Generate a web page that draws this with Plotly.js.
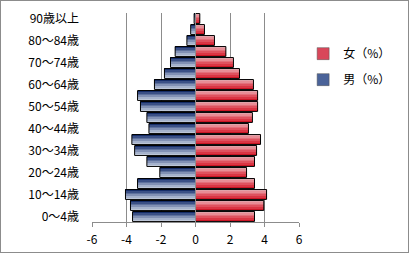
<!DOCTYPE html>
<html><head><meta charset="utf-8">
<script src="https://cdn.plot.ly/plotly-3.0.1.min.js"></script>
<style>
html,body{margin:0;padding:0;background:#fff;}
#wrap{position:relative;width:409px;height:253px;}
#chart{position:absolute;left:0;top:0;width:409px;height:253px;}
#frame{position:absolute;left:0;top:0;width:409px;height:253px;box-sizing:border-box;border:1px solid #8c8c8c;pointer-events:none;}
</style></head>
<body><div id="wrap"><div id="chart"></div><div id="frame"></div></div>
<script>
const categories = ['0～4歳','5～9歳','10～14歳','15～19歳','20～24歳','25～29歳','30～34歳','35～39歳','40～44歳','45～49歳','50～54歳','55～59歳','60～64歳','65～69歳','70～74歳','75～79歳','80～84歳','85～89歳','90歳以上'];
const female = [3.42,3.96,4.12,3.42,2.96,3.42,3.54,3.77,3.07,3.3,3.6,3.6,3.36,2.55,2.2,1.76,1.1,0.52,0.25];
const male = [-3.65,-3.77,-4.06,-3.36,-2.07,-2.82,-3.53,-3.69,-2.7,-2.82,-3.19,-3.36,-2.38,-1.8,-1.45,-1.18,-0.5,-0.28,-0.08];
const xTickVals = [-6,-4,-2,0,2,4,6];
const xTickText = ['-6','-4','-2','0','2','4','6'];
const seriesNames = ['女（%）','男（%）'];

const ypos = categories.map((c,i)=>i);
const tickIdx = ypos.filter(i=>i%2===0);
const BW = 0.9, NB = 6;
function lerp(a,b,t){return a.map((v,k)=>Math.round(v+(b[k]-v)*t));}
function bands(vals, topCol, botCol, name, group){
  const tr=[];
  for(let b=0;b<NB;b++){
    const t=b/(NB-1);
    const c=lerp(topCol,botCol,t);
    const off = BW/2 - (b+1)*BW/NB;
    tr.push({type:'bar',orientation:'h',y:ypos,x:vals,width:BW/NB+0.01,offset:off,
      marker:{color:`rgb(${c[0]},${c[1]},${c[2]})`,line:{width:0}},
      showlegend:false,hoverinfo:'skip'});
  }
  tr.push({type:'bar',orientation:'h',y:ypos,x:vals,width:BW,offset:-BW/2,name:name,legendgroup:group,
    marker:{color:'rgba(0,0,0,0)',line:{color:'#000',width:1}},showlegend:false});
  return tr;
}
const data = [].concat(
  bands(female,[236,170,178],[214,24,40],seriesNames[0],'f'),
  bands(male,[24,48,110],[200,210,228],seriesNames[1],'m')
);
data.push({type:'bar',orientation:'h',y:[null],x:[null],name:seriesNames[0],legendgroup:'f',
  marker:{color:'#d9475a',line:{color:'#555',width:0.5}}});
data.push({type:'bar',orientation:'h',y:[null],x:[null],name:seriesNames[1],legendgroup:'m',
  marker:{color:'#4a6399',line:{color:'#555',width:0.5}}});

const font = {family:'"Noto Sans CJK JP", "Noto Sans", sans-serif', size:12, color:'#000'};
const layout = {
  width:409,height:253,margin:{l:92,r:110,t:13,b:31,autoexpand:false},
  paper_bgcolor:'#fff',plot_bgcolor:'#fff',font:font,
  barmode:'overlay',bargap:0,
  xaxis:{range:[-6,6],tickvals:xTickVals,ticktext:xTickText,showgrid:true,gridcolor:'#8c8c8c',gridwidth:1,
    zeroline:false,showline:true,linecolor:'#8c8c8c',ticks:'outside',ticklen:4,tickcolor:'#8c8c8c',
    ticklabelstandoff:3,tickfont:font,fixedrange:true},
  yaxis:{range:[-0.5,18.5],tickvals:tickIdx,ticktext:tickIdx.map(i=>categories[i]),showgrid:false,zeroline:false,
    showline:false,ticks:'',ticklabelstandoff:12,tickfont:font,fixedrange:true},
  legend:{x:1.02,y:0.875,xanchor:'left',yanchor:'top',traceorder:'grouped',tracegroupgap:7,
    font:font,bgcolor:'rgba(0,0,0,0)',itemwidth:30},
  shapes:[{type:'line',xref:'x',yref:'paper',x0:0,x1:0,y0:0,y1:1,line:{color:'#8c8c8c',width:1},layer:'above'}],
  showlegend:true
};
Plotly.newPlot('chart',data,layout,{staticPlot:true,displayModeBar:false});
</script></body></html>
